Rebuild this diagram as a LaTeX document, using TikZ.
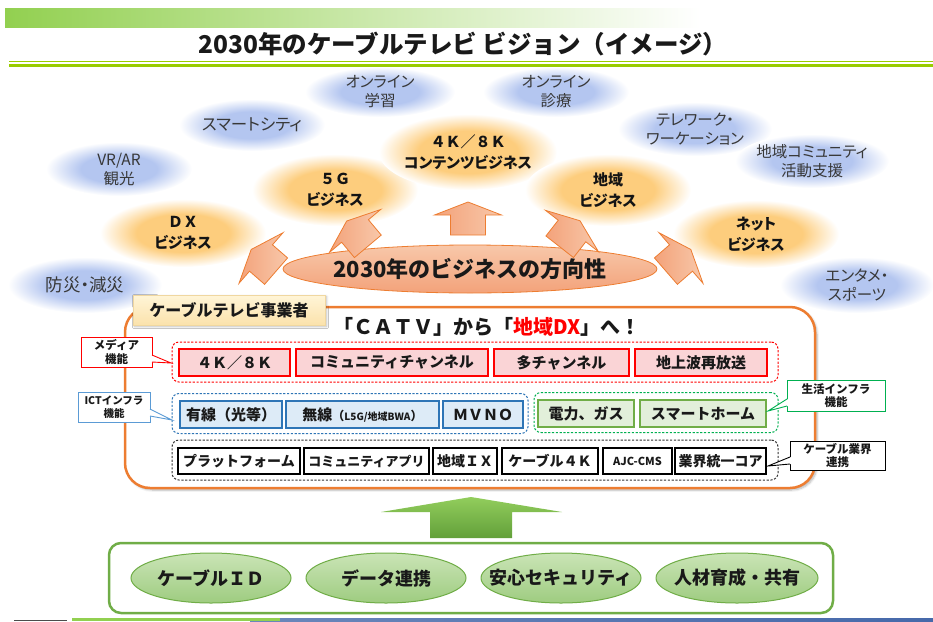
\documentclass[tikz,border=0pt]{standalone}
\usepackage{fontspec}
\setmainfont{Noto Sans CJK JP}
\newfontfamily\pj[RawFeature=+palt]{Noto Sans CJK JP}
\usetikzlibrary{shapes.geometric,shadows.blur}
\definecolor{tgreen}{RGB}{153,204,0}
\definecolor{barg}{RGB}{146,208,80}
\definecolor{sblue}{RGB}{180,198,240}
\definecolor{sorange}{RGB}{253,205,125}
\definecolor{orgline}{RGB}{237,125,49}
\definecolor{salmonL}{RGB}{248,200,170}
\definecolor{salmonD}{RGB}{243,162,122}
\definecolor{redb}{RGB}{255,0,0}
\definecolor{pinkf}{RGB}{250,212,214}
\definecolor{blueb}{RGB}{46,117,182}
\definecolor{bluef}{RGB}{221,235,247}
\definecolor{greenb}{RGB}{112,173,71}
\definecolor{greenf}{RGB}{226,239,218}
\definecolor{gdash}{RGB}{0,176,80}
\definecolor{lblue}{RGB}{91,155,213}
\definecolor{ylwL}{RGB}{255,245,215}
\definecolor{ylwD}{RGB}{251,226,172}
\definecolor{ylwB}{RGB}{240,215,160}
\definecolor{ellgL}{RGB}{202,228,182}
\definecolor{ellgD}{RGB}{158,204,128}
\definecolor{arrgL}{RGB}{146,205,92}
\definecolor{arrgD}{RGB}{98,160,58}
\definecolor{stripb}{RGB}{70,105,170}
\definecolor{txt}{RGB}{25,25,25}
\pgfdeclareradialshading{softblue}{\pgfpoint{0bp}{0bp}}{color(0bp)=(sblue); color(13bp)=(sblue); color(25bp)=(white); color(50bp)=(white)}
\pgfdeclareradialshading{softorange}{\pgfpoint{0bp}{0bp}}{color(0bp)=(sorange); color(14bp)=(sorange); color(25bp)=(white); color(50bp)=(white)}
\newcommand\fsz[2]{\fontsize{#1}{#2}\selectfont}
\newcommand\salarrow[3]{%
  \begin{scope}[shift={(#1,#2)},rotate=#3]
    \shade[left color=salmonD, right color=salmonL, draw=orgline, line width=0.8, line join=miter]
      (13,0) -- (0,33.5) -- (0,17.5) -- (-20,17.5) -- (-20,-17.5) -- (0,-17.5) -- (0,-33.5) -- cycle;
  \end{scope}}
\begin{document}
\begin{tikzpicture}[x=1pt,y=-1pt,
  every node/.style={text=txt},
  softb/.style={ellipse, shade, shading=softblue, inner sep=0},
  softo/.style={ellipse, shade, shading=softorange, inner sep=0},
  tb/.style={align=center, text=black!78, font=\pj\fsz{15.5}{19}},
  to/.style={align=center, text=black!92, font=\bfseries\fsz{15}{21}},
  grp/.style={dash pattern=on 2.2pt off 1.6pt, line width=1, rounded corners=7, inner sep=0},
  rbox/.style={draw=redb, fill=pinkf, line width=1.6, minimum height=27, inner sep=0, font=\bfseries\fsz{15}{15}},
  bbox/.style={draw=blueb, fill=bluef, line width=1.6, minimum height=27, inner sep=0, font=\bfseries\fsz{15}{15}},
  gbox/.style={draw=greenb, fill=greenf, line width=1.6, minimum height=27, inner sep=0, font=\bfseries\fsz{15}{15}},
  kbox/.style={draw=black, fill=white, line width=1.6, minimum height=26, inner sep=0, font=\bfseries\fsz{14}{14}},
  lab/.style={fill=white, line width=0.9, align=center, inner sep=0, font=\bfseries\fsz{11.5}{13.5}},
  gell/.style={ellipse, draw=greenb, line width=1, top color=ellgL, bottom color=ellgD, minimum width=160, minimum height=50, inner sep=0},
  gtxt/.style={font=\bfseries\fsz{18}{18}}
]
\useasboundingbox (0,0) rectangle (933,621);

% header
\shade[left color=barg, right color=white] (5,8) rectangle (700,27);
\node (title) at (463,44) {\bfseries\fsz{24.5}{24}2030年のケーブルテレビ ビジョン（イメージ）};
\fill[tgreen] (9,60.5) rectangle (933,61.5);
\fill[tgreen] (9,63.5) rectangle (933,67);

% footer strip
\fill[black!70] (14,619.6) rectangle (67,621);
\shade[left color=stripb!80, right color=stripb] (250,618.4) rectangle (933,621);
\fill[barg] (72,618.4) rectangle (280,621);

% blue soft ellipses
\node[softb, minimum width=150, minimum height=50] (b1) at (380,92) {};
\node[softb, minimum width=146, minimum height=52] (b2) at (252,125) {};
\node[softb, minimum width=146, minimum height=54] (b3) at (119,169) {};
\node[softb, minimum width=154, minimum height=56] (b4) at (85,285) {};
\node[softb, minimum width=146, minimum height=50] (b5) at (556,92) {};
\node[softb, minimum width=154, minimum height=54] (b6) at (695,129) {};
\node[softb, minimum width=154, minimum height=54] (b7) at (812,161) {};
\node[softb, minimum width=154, minimum height=56] (b8) at (857,285) {};
\node[tb] (b1t) at (b1) {オンライン\\学習};
\node[tb, font=\pj\fsz{16.5}{19}] (b2t) at (b2) {スマートシティ};
\node[tb] (b3t) at (b3) {VR/AR\\観光};
\node[tb, font=\pj\fsz{17.5}{19}] (b4t) at (b4) {防災・減災};
\node[tb] (b5t) at (b5) {オンライン\\診療};
\node[tb] (b6t) at (b6) {テレワーク・\\ワーケーション};
\node[tb] (b7t) at (b7) {地域コミュニティ\\活動支援};
\node[tb] (b8t) at (b8) {エンタメ・\\スポーツ};

% orange soft ellipses
\node[softo, minimum width=166, minimum height=68] (o1) at (183,233) {};
\node[softo, minimum width=166, minimum height=72] (o2) at (335,190) {};
\node[softo, minimum width=178, minimum height=76] (o3) at (468,152) {};
\node[softo, minimum width=166, minimum height=72] (o4) at (608,190) {};
\node[softo, minimum width=166, minimum height=68] (o5) at (756,234) {};
\node[to] (o1t) at (o1) {ＤＸ\\{\pj ビジネス}};
\node[to] (o2t) at (o2) {５Ｇ\\{\pj ビジネス}};
\node[to] (o3t) at (o3) {４Ｋ／８Ｋ\\{\pj コンテンツビジネス}};
\node[to] (o4t) at (o4) {地域\\{\pj ビジネス}};
\node[to] (o5t) at (o5) {{\pj ネット}\\{\pj ビジネス}};

% central ellipse and arrows
\node[ellipse, draw=orgline, line width=0.8, top color=salmonL, bottom color=salmonD, minimum width=374, minimum height=48, inner sep=0] (dir) at (470,269) {};
\node[font=\bfseries\fsz{22}{22}] (dirt) at (dir) {2030年のビジネスの方向性};
\salarrow{261}{258}{139}
\salarrow{355}{231}{130}
\salarrow{468}{215}{90}
\salarrow{572}{231}{52}
\salarrow{681}{258}{41}

% main box
\node[draw=orgline, line width=2.5, rounded corners=25, fill=white, minimum width=690, minimum height=181,
      blur shadow={shadow xshift=2pt, shadow yshift=-2pt, shadow blur steps=6, shadow opacity=30}] (main) at (470,397.5) {};
\node[draw=ylwB, line width=0.6, top color=ylwL, bottom color=ylwD, minimum width=192, minimum height=30, inner sep=0,
      blur shadow={shadow xshift=1.5pt, shadow yshift=-1.5pt, shadow blur steps=4, shadow opacity=30},
      font=\bfseries\fsz{16}{16}] (op) at (229,310) {ケーブルテレビ事業者};
\node[font=\bfseries\fsz{20}{20}] (catv) at (487,327) {「ＣＡＴＶ」から「\textcolor{redb}{地域DX}」へ！};

% row 1
\node[grp, draw=redb, minimum width=606, minimum height=40] (gmedia) at (475,362) {};
\node[rbox, minimum width=111] (m1) at (234.5,362.5) {４Ｋ／８Ｋ};
\node[rbox, minimum width=192] (m2) at (392,362.5) {コミュニティチャンネル};
\node[rbox, minimum width=135] (m3) at (561.5,362.5) {多チャンネル};
\node[rbox, minimum width=132] (m4) at (701,362.5) {地上波再放送};

% row 2
\node[grp, draw=blueb, minimum width=356, minimum height=40] (gict) at (350,413.5) {};
\node[grp, draw=gdash, minimum width=244, minimum height=40] (glife) at (656,412.5) {};
\node[bbox, minimum width=102] (i1) at (231,414.5) {有線（光等）};
\node[bbox, minimum width=153] (i2) at (362.5,414.5) {無線{\fsz{12}{12}（}{\fsz{10}{10}L5G/地域BWA}{\fsz{12}{12}）}};
\node[bbox, minimum width=80] (i3) at (483,414.5) {ＭＶＮＯ};
\node[gbox, minimum width=96] (l1) at (586,413.5) {電力、ガス};
\node[gbox, minimum width=126] (l2) at (703,413.5) {スマートホーム};

% row 3
\node[grp, draw=black!80, minimum width=606, minimum height=40] (gcab) at (475,460) {};
\node[kbox, minimum width=122] (c1) at (239,461) {プラットフォーム};
\node[kbox, minimum width=125, font=\bfseries\fsz{13}{13}] (c2) at (366.5,461) {コミュニティアプリ};
\node[kbox, minimum width=64] (c3) at (465,461) {地域ＩＸ};
\node[kbox, minimum width=96] (c4) at (550,461) {ケーブル４Ｋ};
\node[kbox, minimum width=69, font=\bfseries\fsz{11}{11}] (c5) at (637.5,461) {AJC-CMS};
\node[kbox, minimum width=91] (c6) at (720.5,461) {業界統一コア};

% callout labels
\node[lab, draw=redb, minimum width=71, minimum height=30] (lm) at (116.5,352) {メディア\\機能};
\coordinate (lmt) at (171,363);
\fill[white] (151,355) -- (lmt) -- (151,362) -- cycle;
\draw[redb, line width=0.9] (152,355) -- (lmt) -- (152,362);

\node[lab, draw=lblue, minimum width=72, minimum height=30, font=\bfseries\fsz{10.5}{13.5}] (li) at (114,407) {ICTインフラ\\機能};
\coordinate (lit) at (172,420);
\fill[white] (149,409) -- (lit) -- (149,416) -- cycle;
\draw[lblue, line width=0.9] (150,409) -- (lit) -- (150,416);

\node[lab, draw=gdash, minimum width=98, minimum height=31] (ll) at (836,395.5) {生活インフラ\\機能};
\coordinate (llt) at (768,411);
\fill[white] (788,399) -- (llt) -- (788,406) -- cycle;
\draw[gdash, line width=0.9] (787,399) -- (llt) -- (787,406);

\node[lab, draw=black, minimum width=95, minimum height=29] (lc) at (837.5,455.5) {ケーブル業界\\連携};
\coordinate (lct) at (768,466);
\fill[white] (791,457) -- (lct) -- (791,464) -- cycle;
\draw[black, line width=0.9] (790,457) -- (lct) -- (790,464);

% green arrow and base
\shade[top color=arrgL, bottom color=arrgD]
  (471,497) -- (562,512) -- (512,512) -- (512,538) -- (430,538) -- (430,512) -- (381,512) -- cycle;
\node[draw=greenb, line width=2.5, rounded corners=12, fill=white, minimum width=724, minimum height=70] (base) at (471,578) {};
\node[gell] (e1) at (211,578) {};
\node[gell] (e2) at (386,578) {};
\node[gell] (e3) at (561,578) {};
\node[gell, minimum width=162] (e4) at (737,578) {};
\node[gtxt] (e1t) at (e1) {ケーブルＩＤ};
\node[gtxt] (e2t) at (e2) {データ連携};
\node[gtxt] (e3t) at (e3) {安心セキュリティ};
\node[gtxt] (e4t) at (e4) {人材育成・共有};
\end{tikzpicture}
\end{document}
